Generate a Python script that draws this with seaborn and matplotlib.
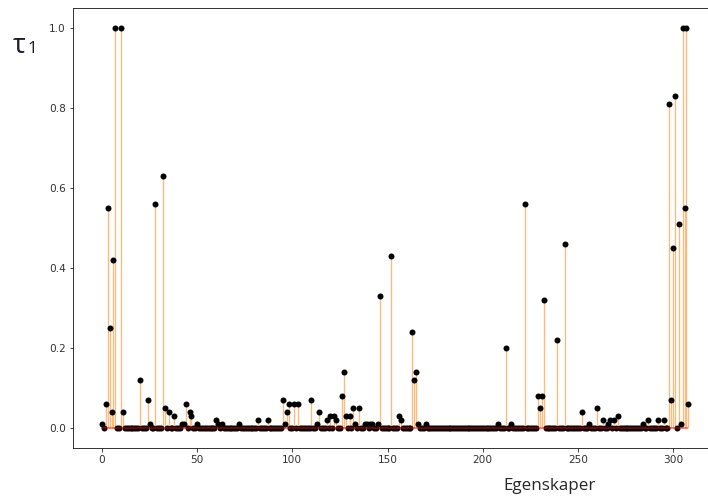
import numpy as np
import pandas as pd
import matplotlib
matplotlib.use("Agg")
import matplotlib.pyplot as plt
import seaborn as sns

# Feature importances (tau_1) for 309 features; features not listed are 0.
n_features = 309
nonzero_idx = [
    0, 2, 3, 4, 5, 6, 7, 10, 11, 20, 24, 25, 28, 32, 33, 35, 38, 42, 43, 44,
    46, 47, 50, 60, 61, 63, 72,
    82, 87, 95, 96, 97, 98, 101, 103, 110, 113, 114, 118, 120, 122, 123, 126,
    127, 128, 130, 132, 133, 135, 138, 139, 141, 142, 145, 146, 152, 156, 157,
    163, 164, 165, 166, 170,
    208, 212, 215, 222, 229, 230, 231, 232, 239, 243, 252, 256, 260, 263, 266,
    267, 269, 271, 284, 287, 292, 295, 298, 299, 300, 301, 303, 304, 305, 306,
    307, 308,
]
nonzero_val = [
    0.01, 0.06, 0.55, 0.25, 0.04, 0.42, 1.00, 1.00, 0.04, 0.12, 0.07, 0.01,
    0.56, 0.63, 0.05, 0.04, 0.03, 0.01, 0.01, 0.06, 0.04, 0.03, 0.01, 0.02,
    0.01, 0.01, 0.01,
    0.02, 0.02, 0.07, 0.01, 0.04, 0.06, 0.06, 0.06, 0.07, 0.01, 0.04, 0.02,
    0.03, 0.03, 0.02, 0.08, 0.14, 0.03, 0.03, 0.05, 0.01, 0.05, 0.01, 0.01,
    0.01, 0.01, 0.01, 0.33, 0.43, 0.03, 0.02, 0.24, 0.12, 0.14, 0.01, 0.01,
    0.01, 0.20, 0.01, 0.56, 0.08, 0.05, 0.08, 0.32, 0.22, 0.46, 0.04, 0.01,
    0.05, 0.02, 0.01, 0.02, 0.02, 0.03, 0.01, 0.02, 0.02, 0.02, 0.81, 0.07,
    0.45, 0.83, 0.51, 0.01, 1.00, 0.55, 1.00, 0.06,
]
x_ticks = [0, 50, 100, 150, 200, 250, 300]
y_ticks = [0.0, 0.2, 0.4, 0.6, 0.8, 1.0]

tau = np.zeros(n_features)
tau[nonzero_idx] = nonzero_val
df = pd.DataFrame({"feature": np.arange(n_features), "tau": tau})

sns.set_style("ticks")
plt.rcParams["font.family"] = ["DejaVu Sans"]

W, H, DPI = 708, 497, 72
fig = plt.figure(figsize=(W / DPI, H / DPI), dpi=DPI)
ax = fig.add_axes([72.7 / W, 49 / H, 645 / W, 440 / H])
ax.spines["right"].set_visible(False)

# stems
ax.vlines(df["feature"], 0, df["tau"], color="#ffb978", lw=1.3, zorder=2)
# heads
sns.scatterplot(data=df, x="feature", y="tau", color="black", s=36,
                linewidth=0, ax=ax, zorder=3, legend=False)
# baseline
ax.hlines(0, df["feature"].min(), df["feature"].max(), color="red",
          alpha=0.6, lw=1.5, zorder=4)

ax.set_xlim(-15.4, 323.4)
ax.set_ylim(-0.05, 1.05)
ax.set_xticks(x_ticks)
ax.set_yticks(y_ticks)
ax.set_yticklabels([f"{v:.1f}" for v in y_ticks])
ax.set_xlabel("")
ax.set_ylabel("")
ax.tick_params(labelsize=10.5, colors="#333333", length=3.5, width=0.9)
for side in ("left", "bottom", "top"):
    ax.spines[side].set_color("#222222")
    ax.spines[side].set_linewidth(0.9)

lab_font = ["Open Sans", "DejaVu Sans"]
fig.text(550 / W, 1 - 490 / H, "Egenskaper", ha="center", va="baseline",
         fontsize=17, color="#262626", family=lab_font)
fig.text(13 / W, 1 - 53 / H, "τ", ha="left", va="baseline",
         fontsize=27, color="#1c1c2a", family=lab_font)
fig.text(27.5 / W, 1 - 53 / H, "1", ha="left", va="baseline",
         fontsize=17, color="#1c1c2a", family=lab_font)

fig.savefig("out.png", dpi=DPI)
